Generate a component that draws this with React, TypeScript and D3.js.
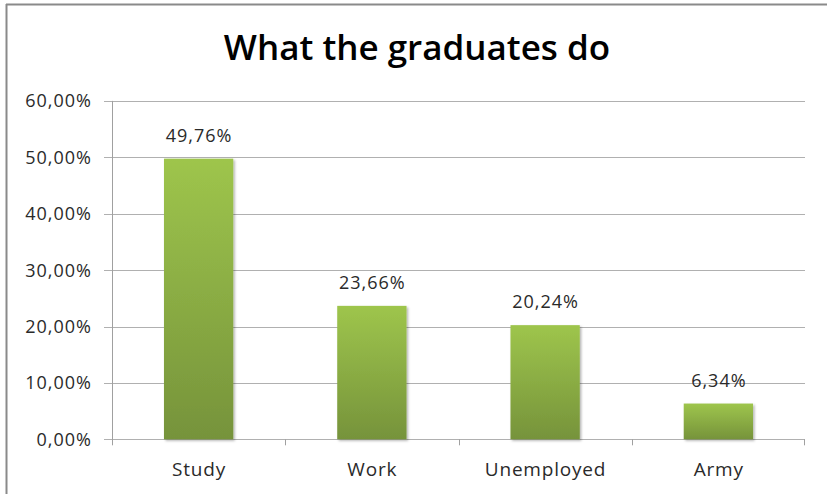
import React from "react";
import * as d3 from "d3";

const categories = ["Study", "Work", "Unemployed", "Army"];
const values = [49.76, 23.66, 20.24, 6.34];
const valueLabels = ["49,76%", "23,66%", "20,24%", "6,34%"];
const yTicks = [0, 10, 20, 30, 40, 50, 60];
const yTickLabels = ["0,00%", "10,00%", "20,00%", "30,00%", "40,00%", "50,00%", "60,00%"];
const title = "What the graduates do";

export default function App() {
  const W = 827, H = 494;
  const x0 = 112, x1 = 805, y0 = 439.3, y1 = 100.9;
  const x = d3.scaleBand<string>().domain(categories).range([x0, x1]).paddingInner(0.6).paddingOuter(0.3);
  const xb = d3.scaleBand<string>().domain(categories).range([x0, x1]);
  const y = d3.scaleLinear().domain([0, 60]).range([y0, y1]);
  const font = "'Open Sans', sans-serif";
  return (
    <svg width={W} height={H} style={{ position: "absolute", left: 0, top: 0, background: "#fff" }}>
      <defs>
        <linearGradient id="barGrad" x1="0" y1="0" x2="0" y2="1">
          <stop offset="0" stopColor="#9ec54c" />
          <stop offset="1" stopColor="#76933b" />
        </linearGradient>
        <filter id="shadow" x="-10%" y="-10%" width="130%" height="130%">
          <feDropShadow dx="1.5" dy="1.5" stdDeviation="1.2" floodColor="#000" floodOpacity="0.3" />
        </filter>
      </defs>
      {/* chart border */}
      <line x1={6} x2={W} y1={4.5} y2={4.5} stroke="#8a8a8a" strokeWidth={2} />
      <line x1={6.5} x2={6.5} y1={4} y2={H} stroke="#8a8a8a" strokeWidth={2} />
      <text x={417} y={60} textAnchor="middle" fontFamily={font} fontWeight={600} fontSize={35} fill="#000">
        {title}
      </text>
      {/* gridlines and y ticks */}
      {yTicks.map((t, i) => (
        <g key={t}>
          <line x1={104} x2={x1} y1={Math.round(y(t)) + 0.5} y2={Math.round(y(t)) + 0.5} stroke="#b0b0b0" strokeWidth={1} />
          <text x={92} y={y(t) + 6.5} textAnchor="end" fontFamily={font} fontSize={18} letterSpacing={1} fill="#2a2a2a">
            {yTickLabels[i]}
          </text>
        </g>
      ))}
      {/* y axis */}
      <line x1={x0 + 0.5} x2={x0 + 0.5} y1={y1} y2={y0 + 1} stroke="#a0a0a0" strokeWidth={1} />
      {/* x category ticks */}
      {categories.map((c) => (
        <line key={c} x1={Math.round(xb(c)!) + 0.5} x2={Math.round(xb(c)!) + 0.5} y1={y0} y2={y0 + 6} stroke="#a0a0a0" />
      ))}
      <line x1={x1 - 0.5} x2={x1 - 0.5} y1={y0} y2={y0 + 6} stroke="#a0a0a0" />
      {/* bars */}
      {categories.map((c, i) => (
        <rect key={c} x={x(c)!} y={y(values[i])} width={x.bandwidth()} height={y0 - y(values[i])} fill="url(#barGrad)" filter="url(#shadow)" />
      ))}
      {/* value labels */}
      {categories.map((c, i) => (
        <text key={c} x={x(c)! + x.bandwidth() / 2 + 0.5} y={y(values[i]) - 17} textAnchor="middle" fontFamily={font} fontSize={18} letterSpacing={1} fill="#2a2a2a">
          {valueLabels[i]}
        </text>
      ))}
      {/* category labels */}
      {categories.map((c) => (
        <text key={c} x={xb(c)! + xb.bandwidth() / 2 + 0.4} y={476} textAnchor="middle" fontFamily={font} fontSize={19} letterSpacing={0.8} fill="#2a2a2a">
          {c}
        </text>
      ))}
    </svg>
  );
}
